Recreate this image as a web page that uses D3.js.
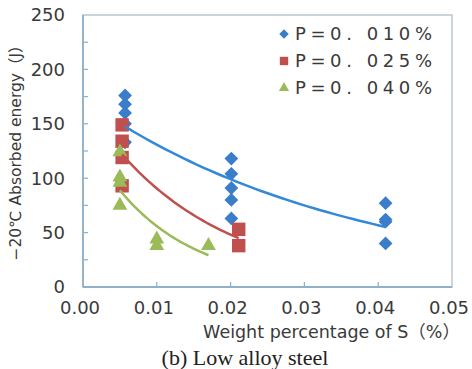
<!DOCTYPE html>
<html>
<head>
<meta charset="utf-8">
<script src="https://cdn.jsdelivr.net/npm/d3@7"></script>
<style>
  body { margin: 0; background: #fff; }
  svg { display: block; }
</style>
</head>
<body>
<svg id="chart"></svg>
<script>
// data
const sBlue = [0.0057, 0.0057, 0.0057, 0.0057, 0.0057, 0.0201, 0.0201, 0.0201, 0.0201, 0.0201, 0.041, 0.041, 0.041, 0.041]
const eBlue = [176, 168, 160, 150, 133, 118, 104, 91, 80, 63, 77, 62, 60, 40]
const sRed = [0.0053, 0.0053, 0.0053, 0.0053, 0.0211, 0.0211]
const eRed = [149, 134, 119, 93, 53, 38]
const sGreen = [0.005, 0.005, 0.005, 0.005, 0.010, 0.010, 0.017]
const eGreen = [124, 101, 96, 75, 44, 38, 38]
const legendNames = ['P=0. 010%', 'P=0. 025%', 'P=0. 040%']
const xTicks = [0, 0.01, 0.02, 0.03, 0.04, 0.05]
const yTicks = [0, 50, 100, 150, 200, 250]

const W = 472, H = 369
const margin = {left: 83, top: 15, right: 20, bottom: 82}
const w = W - margin.left - margin.right
const h = H - margin.top - margin.bottom
const font = '"DejaVu Sans", "Noto Sans CJK JP", sans-serif'
const txt = '#3a3a3a'

const series = [
  {name: legendNames[0], s: sBlue, e: eBlue, color: '#3a7dc9', line: '#3189d8', shape: 'diamond'},
  {name: legendNames[1], s: sRed, e: eRed, color: '#c0504d', line: '#c0504d', shape: 'square'},
  {name: legendNames[2], s: sGreen, e: eGreen, color: '#9bbb59', line: '#9bbb59', shape: 'triangle'},
]

const svg = d3.select('#chart').attr('width', W).attr('height', H)
const g = svg.append('g').attr('transform', `translate(${margin.left},${margin.top})`)

const xScale = d3.scaleLinear().domain([0, 0.05]).range([0, w])
const yScale = d3.scaleLinear().domain([0, 250]).range([h, 0])

// frame
g.append('rect').attr('width', w).attr('height', h)
  .attr('fill', 'none').attr('stroke', '#b9c6d0').attr('stroke-width', 1.5)

// minor y ticks (inside) every 25
g.append('g').selectAll('line')
  .data(d3.range(25, 250, 25))
  .join('line')
  .attr('x1', 0).attr('x2', 5)
  .attr('y1', d => yScale(d)).attr('y2', d => yScale(d))
  .attr('stroke', '#7db3dc').attr('stroke-width', 1.2)

// x ticks (inside)
g.append('g').selectAll('line')
  .data(xTicks.slice(1, -1))
  .join('line')
  .attr('x1', d => xScale(d)).attr('x2', d => xScale(d))
  .attr('y1', h).attr('y2', h - 5)
  .attr('stroke', '#7db3dc').attr('stroke-width', 1.2)

// left and bottom axis lines
g.append('line').attr('x1', 0).attr('x2', 0).attr('y1', 0).attr('y2', h)
  .attr('stroke', '#8fb0c8').attr('stroke-width', 1.8)
g.append('line').attr('x1', 0).attr('x2', w).attr('y1', h).attr('y2', h)
  .attr('stroke', '#8fb0c8').attr('stroke-width', 1.8)

// tick labels
g.append('g').selectAll('text')
  .data(yTicks)
  .join('text')
  .attr('x', -18).attr('y', d => yScale(d))
  .attr('dy', '0.35em')
  .attr('text-anchor', 'end')
  .attr('font-family', font).attr('font-size', 18).attr('fill', txt)
  .text(d => d)

g.append('g').selectAll('text')
  .data(xTicks)
  .join('text')
  .attr('x', d => xScale(d) - 3).attr('y', h + 21)
  .attr('dy', '0.35em')
  .attr('text-anchor', 'middle')
  .attr('font-family', font).attr('font-size', 18).attr('fill', txt)
  .text(d => d.toFixed(2))

// axis titles
svg.append('text')
  .attr('x', 460).attr('y', 338)
  .attr('text-anchor', 'end')
  .attr('font-family', font).attr('font-size', 17.5).attr('fill', txt)
  .text('Weight percentage of S（%）')

svg.append('text')
  .attr('transform', 'translate(21,149) rotate(-90)')
  .attr('text-anchor', 'middle')
  .attr('font-family', font).attr('font-size', 15.5).attr('fill', txt)
  .text('−20℃ Absorbed energy（J）')

svg.append('text')
  .attr('x', 245).attr('y', 365)
  .attr('text-anchor', 'middle')
  .attr('font-family', '"Liberation Serif", "DejaVu Serif", serif')
  .attr('font-size', 22).attr('fill', '#222')
  .text('(b) Low alloy steel')

// exponential trend line, least squares on ln(E)
function expFit(xs, ys) {
  const ly = ys.map(Math.log)
  const mx = d3.mean(xs), my = d3.mean(ly)
  let sxy = 0, sxx = 0
  xs.forEach((x, i) => { sxy += (x - mx) * (ly[i] - my); sxx += (x - mx) ** 2 })
  const b = sxy / sxx
  const a = Math.exp(my - b * mx)
  return x => a * Math.exp(b * x)
}

const line = d3.line().x(d => xScale(d[0])).y(d => yScale(d[1])).curve(d3.curveBasis)

function symbolPath(shape, size) {
  if (shape === 'triangle') return d3.symbol(d3.symbolTriangle, size)()
  return d3.symbol(d3.symbolSquare, size)()
}

series.forEach(sr => {
  const f = expFit(sr.s, sr.e)
  const [x0, x1] = d3.extent(sr.s)
  sr.fitPts = d3.range(0, 41).map(i => {
    const x = x0 + (x1 - x0) * i / 40
    return [x, f(x)]
  })
})

// markers first, trend lines on top
series.forEach(sr => {
  const size = sr.shape === 'diamond' ? 95 : sr.shape === 'square' ? 180 : 95
  g.append('g').selectAll('path')
    .data(sr.s.map((s, i) => [s, sr.e[i]]))
    .join('path')
    .attr('d', symbolPath(sr.shape, size))
    .attr('transform', d => `translate(${xScale(d[0])},${yScale(d[1])})` + (sr.shape === 'diamond' ? ' rotate(45)' : ''))
    .attr('fill', sr.color)
})

series.forEach(sr => {
  g.append('path')
    .datum(sr.fitPts)
    .attr('d', line)
    .attr('fill', 'none')
    .attr('stroke', sr.line)
    .attr('stroke-width', 2.5)
})

// legend
const leg = svg.append('g').attr('transform', 'translate(284,34)')
series.forEach((sr, i) => {
  const row = leg.append('g').attr('transform', `translate(0,${i * 27})`)
  row.append('path')
    .attr('d', symbolPath(sr.shape, sr.shape === 'square' ? 70 : 45))
    .attr('transform', sr.shape === 'diamond' ? 'rotate(45)' : '')
    .attr('fill', sr.color)
  row.append('text')
    .attr('x', 11).attr('dy', '0.35em')
    .attr('font-family', font).attr('font-size', 18).attr('fill', txt)
    .attr('textLength', 137).attr('lengthAdjust', 'spacing')
    .text(sr.name)
})
</script>
</body>
</html>
